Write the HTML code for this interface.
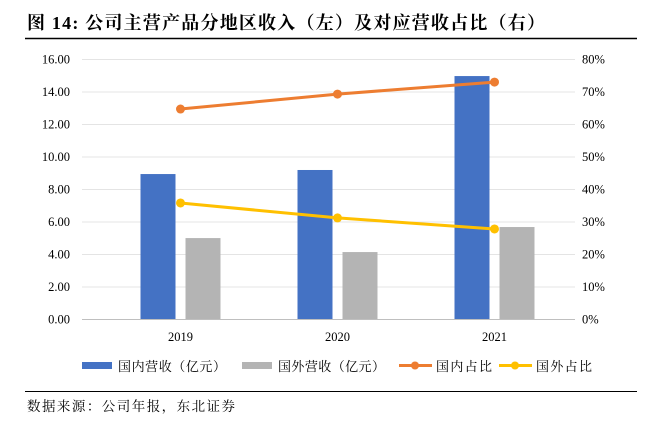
<!DOCTYPE html>
<html><head><meta charset="utf-8"><style>
body{margin:0;background:#fff;width:653px;height:426px;overflow:hidden;font-family:"Liberation Serif","Noto Serif CJK SC",serif}
</style></head><body>
<svg width="653" height="426" xmlns="http://www.w3.org/2000/svg">
<text x="27" y="29" font-size="18" font-weight="bold" textLength="518" lengthAdjust="spacing" font-family="Liberation Serif, Noto Serif CJK SC, serif">图 14: 公司主营产品分地区收入（左）及对应营收占比（右）</text>
<line x1="25" y1="38.5" x2="637" y2="38.5" stroke="#000" stroke-width="1.5"/>
<g id="grid"></g><g id="bars"></g><g id="lines"></g><g id="axes"></g>
<g font-size="13" font-family="Liberation Serif, Noto Serif CJK SC, serif">
<g><rect x="82" y="362" width="30" height="7" fill="#4472C4"/><text x="118" y="371" textLength="108" lengthAdjust="spacing">国内营收（亿元）</text></g>
<g><rect x="242" y="362" width="30" height="7" fill="#B4B4B4"/><text x="278" y="371" textLength="107" lengthAdjust="spacing">国外营收（亿元）</text></g>
<g><line x1="399" y1="365.5" x2="432" y2="365.5" stroke="#ED7D31" stroke-width="3"/><circle cx="415" cy="365.5" r="4" fill="#ED7D31"/><text x="436" y="371" textLength="56" lengthAdjust="spacing">国内占比</text></g>
<g><line x1="499" y1="365.5" x2="532" y2="365.5" stroke="#FFC000" stroke-width="3"/><circle cx="515" cy="365.5" r="4" fill="#FFC000"/><text x="536" y="371" textLength="56" lengthAdjust="spacing">国外占比</text></g>
</g>
<line x1="25" y1="391.5" x2="637" y2="391.5" stroke="#000" stroke-width="1"/>
<text x="27" y="411" font-size="13.5" textLength="208" lengthAdjust="spacing">数据来源：公司年报，东北证券</text>
</svg>
<script>
const categories=["2019","2020","2021"];
const domestic=[8.92,9.17,14.95];
const overseas=[4.98,4.12,5.66];
const domesticShare=[64.6,69.2,72.9];
const overseasShare=[35.7,31.1,27.7];
const leftTicks=["0.00","2.00","4.00","6.00","8.00","10.00","12.00","14.00","16.00"];
const rightTicks=["0%","10%","20%","30%","40%","50%","60%","70%","80%"];
const NS="http://www.w3.org/2000/svg";
const X0=102,X1=573,Y0=319,Y1=59;
const cw=(X1-X0)/categories.length;
const xc=i=>X0+cw*(i+0.5);
const yL=v=>Y0-(v/16)*(Y0-Y1);
const yR=v=>Y0-(v/80)*(Y0-Y1);
function mk(tag,attrs,parent){const e=document.createElementNS(NS,tag);for(const k in attrs)e.setAttribute(k,attrs[k]);document.getElementById(parent).appendChild(e);return e;}
leftTicks.forEach((t,i)=>{const v=i*2,y=yL(v);
 const g=mk("line",{x1:82,x2:575,y1:y+0.5,y2:y+0.5,stroke:i==0?"#BFBFBF":"#E4E4E4","stroke-width":1},"grid");
 
 
 const tl=mk("text",{x:70,y:y+4.5,"text-anchor":"end","font-size":"12.5"},"axes");tl.textContent=t;
 
 
 const tr=mk("text",{x:582,y:y+4.5,"font-size":"12.5"},"axes");tr.textContent=rightTicks[i];
 
 
});
categories.forEach((c,i)=>{
 const t=mk("text",{x:xc(i),y:341,"text-anchor":"middle","font-size":"12.5"},"axes");t.textContent=c;
 
 
 const b1=mk("rect",{x:xc(i)-40,y:yL(domestic[i]),width:35,height:Y0-yL(domestic[i]),fill:"#4472C4"},"bars");
 
 
 const b2=mk("rect",{x:xc(i)+5,y:yL(overseas[i]),width:35,height:Y0-yL(overseas[i]),fill:"#B4B4B4"},"bars");
 
 
});
[[domesticShare,"#ED7D31","domestic-share"],[overseasShare,"#FFC000","overseas-share"]].forEach(([d,col,nm])=>{
 const p=mk("polyline",{points:d.map((v,i)=>xc(i)+","+yR(v)).join(" "),fill:"none",stroke:col,"stroke-width":3},"lines");
 
 
 d.forEach((v,i)=>{const c=mk("circle",{cx:xc(i),cy:yR(v),r:4.5,fill:col},"lines");
  
  });
});
</script>
</body></html>
